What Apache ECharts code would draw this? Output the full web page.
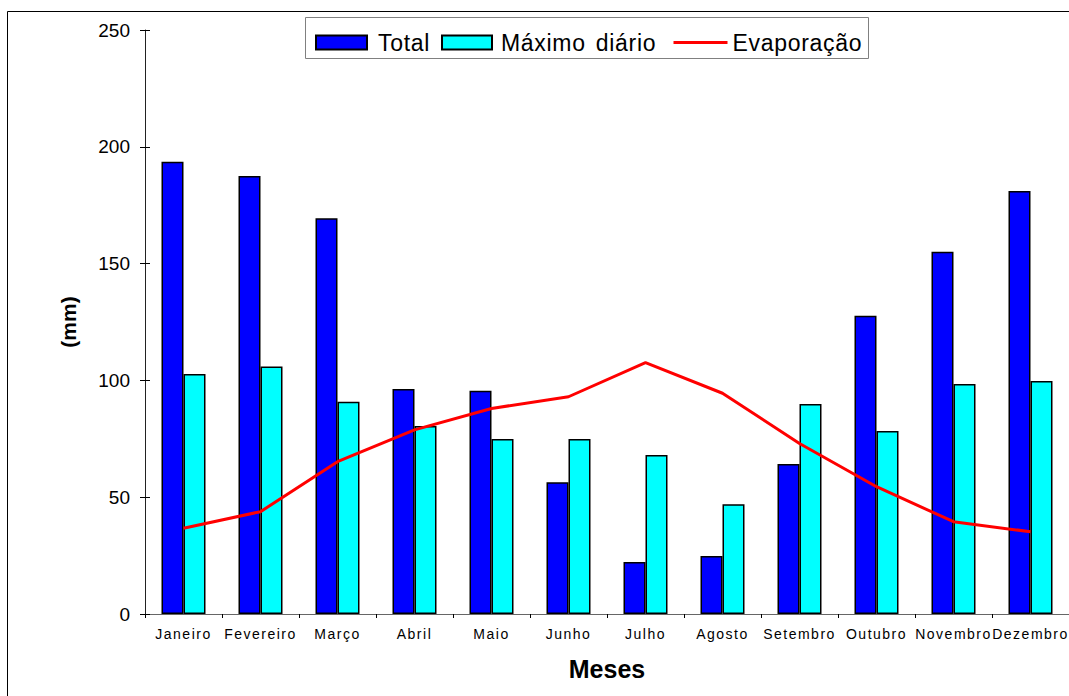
<!DOCTYPE html>
<html>
<head>
<meta charset="utf-8">
<script src="https://cdn.jsdelivr.net/npm/echarts@6/dist/echarts.min.js"></script>
<style>
  html, body { margin: 0; padding: 0; background: #fff; }
  #chart { width: 1069px; height: 696px; }
  /* month labels are drawn with wide letter spacing */
  #chart text[style*="14px"] { letter-spacing: 1.5px; }
  /* legend entries */
  #chart text[style*="23px"] { letter-spacing: 0.7px; word-spacing: 3px; }
</style>
</head>
<body>
<div id="chart"></div>
<script>
// Monthly rainfall and evaporation (mm)
const months = ['Janeiro', 'Fevereiro', 'Março', 'Abril', 'Maio', 'Junho',
                'Julho', 'Agosto', 'Setembro', 'Outubro', 'Novembro', 'Dezembro'];
const total = [193.6, 187.5, 169.4, 96.3, 95.6, 56.4, 22.3, 24.8, 64.2, 127.7, 155.1, 181.1];
const maxDaily = [102.7, 105.9, 90.9, 80.5, 74.9, 74.9, 68.1, 47.0, 89.9, 78.3, 98.5, 99.7];
const evaporation = [36.7, 43.8, 65.2, 78.8, 88.0, 93.0, 107.6, 94.5, 73.0, 54.5, 39.5, 35.2];
const yTicks = { min: 0, max: 250, step: 50 };

const FONT = '"Liberation Sans", Arial, sans-serif';
const chart = echarts.init(document.getElementById('chart'), null, { renderer: 'svg' });

// one legend block per entry, laid out side by side inside a framed box
function legendEntry(item, left, width, textPad, icon) {
  const block = {
    left: left, top: 31, padding: 0,
    itemWidth: width, itemHeight: 14,
    lineStyle: { width: 3 },
    textStyle: { fontFamily: FONT, fontSize: 23, color: '#000', padding: [0, 0, 0, textPad] },
    data: [item]
  };
  if (icon) block.icon = icon;
  return block;
}

chart.setOption({
  backgroundColor: '#fff',
  animation: false,
  graphic: [{
    type: 'rect',
    shape: { x: 7.5, y: 11.5, width: 1100, height: 720 },
    style: { fill: 'none', stroke: '#000', lineWidth: 1 },
    silent: true, z: -1
  }, {
    type: 'rect',
    shape: { x: 305.5, y: 17.5, width: 563, height: 41 },
    style: { fill: '#fff', stroke: '#808080', lineWidth: 1 },
    silent: true, z: 0
  }],
  legend: [
    legendEntry('Total', 315, 51, 6, 'rect'),
    legendEntry('Máximo diário', 441, 50, 4, 'rect'),
    legendEntry({ name: 'Evaporação', itemStyle: { opacity: 0 } }, 672, 54, 0)
  ],
  grid: { left: 145, top: 30, width: 926, height: 584, containLabel: false },
  xAxis: {
    type: 'category',
    data: months,
    name: 'Meses',
    nameLocation: 'middle',
    nameGap: 42,
    nameTextStyle: { fontFamily: FONT, fontSize: 25, fontWeight: 'bold', color: '#000' },
    axisLine: { lineStyle: { color: '#666', width: 1 } },
    axisTick: { show: true, interval: 0, length: 4, lineStyle: { color: '#000' } },
    axisLabel: { interval: 0, fontFamily: FONT, fontSize: 14, color: '#000', margin: 13 }
  },
  yAxis: [{
    type: 'value',
    min: yTicks.min, max: yTicks.max, interval: yTicks.step,
    name: '(mm)',
    nameLocation: 'middle',
    nameGap: 66,
    nameRotate: 90,
    nameTextStyle: { fontFamily: FONT, fontSize: 21, fontWeight: 'bold', color: '#000' },
    axisLine: { show: true, lineStyle: { color: '#222', width: 1 } },
    axisTick: { show: true, length: 5, lineStyle: { color: '#000' } },
    axisLabel: { fontFamily: FONT, fontSize: 19, color: '#000', margin: 15 },
    splitLine: { show: false }
  }, {
    // inner half of the crossing tick marks
    type: 'value',
    position: 'left',
    min: yTicks.min, max: yTicks.max, interval: yTicks.step,
    axisLine: { show: false },
    axisTick: { show: true, inside: true, length: 5, lineStyle: { color: '#000' } },
    axisLabel: { show: false },
    splitLine: { show: false }
  }],
  series: [{
    name: 'Total',
    type: 'bar',
    data: total,
    barWidth: 22,
    barGap: '0%',
    itemStyle: { color: '#0000FF', borderColor: '#000', borderWidth: 1.5 }
  }, {
    name: 'Máximo diário',
    type: 'bar',
    data: maxDaily,
    barWidth: 22,
    barGap: '0%',
    itemStyle: { color: '#00FFFF', borderColor: '#000', borderWidth: 1.5 }
  }, {
    name: 'Evaporação',
    type: 'line',
    data: evaporation,
    symbol: 'none',
    lineStyle: { color: '#FF0000', width: 3 },
    itemStyle: { color: '#FF0000' },
    z: 5
  }]
});
</script>
</body>
</html>
